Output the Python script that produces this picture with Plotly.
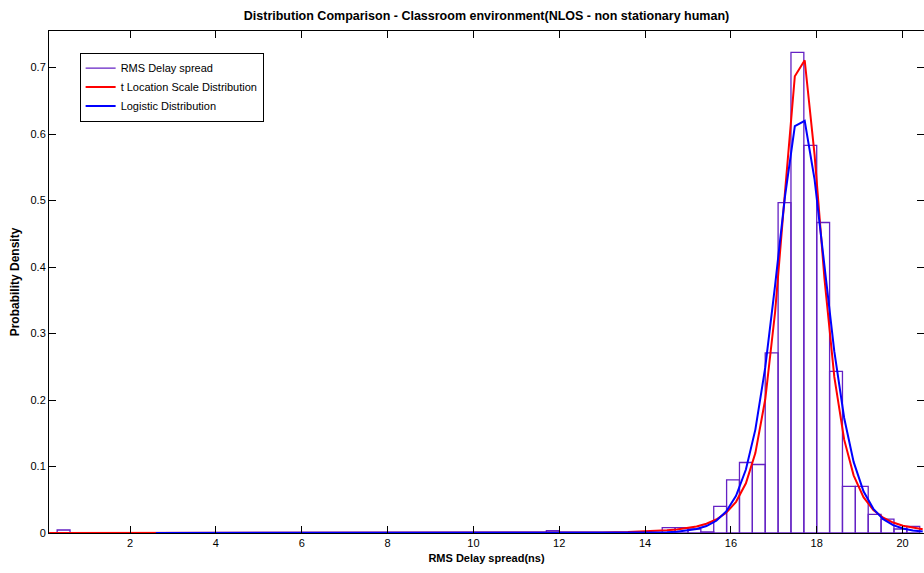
import plotly.graph_objects as go

# Histogram of measured RMS delay spread (normalised to probability density)
bin_width = 0.3
bin_left = [0.3, 11.7, 14.4, 14.7, 15.0, 15.3, 15.6, 15.9, 16.2, 16.5, 16.8,
            17.1, 17.4, 17.7, 18.0, 18.3, 18.6, 18.9, 19.2, 19.5, 19.8, 20.1]
density = [0.0045, 0.0035, 0.008, 0.008, 0.006, 0.0015, 0.040, 0.080, 0.106,
           0.103, 0.271, 0.497, 0.723, 0.583, 0.467, 0.243, 0.070, 0.070,
           0.028, 0.021, 0.006, 0.010]

# Fitted t location-scale pdf
t_x = [0.11, 2.0, 4.0, 6.0, 8.0, 10.0, 12.0, 13.0, 13.6, 14.05,
       14.28, 14.51, 14.74, 14.97, 15.20, 15.43, 15.66, 15.89, 16.12, 16.35,
       16.57, 16.80, 17.03, 17.26, 17.49, 17.72, 17.95, 18.18, 18.41, 18.64,
       18.86, 19.09, 19.32, 19.55, 19.78, 20.01, 20.24, 20.47]
t_pdf = [0.0, 0.0, 0.0, 0.0, 0.0, 0.0001, 0.0004, 0.0009, 0.0014, 0.0024,
         0.0031, 0.0040, 0.0053, 0.0072, 0.0099, 0.0140, 0.0203, 0.0304, 0.0469, 0.0748,
         0.1202, 0.2008, 0.332, 0.512, 0.687, 0.711, 0.569, 0.383, 0.2348, 0.1404,
         0.0867, 0.0539, 0.0346, 0.0229, 0.0157, 0.0110, 0.0079, 0.0058]

# Fitted logistic pdf
logi_x = [2.6, 6.0, 10.0, 12.0, 13.0, 13.6, 14.05,
          14.28, 14.51, 14.74, 14.97, 15.20, 15.43, 15.66, 15.89, 16.12, 16.35,
          16.57, 16.80, 17.03, 17.26, 17.49, 17.72, 17.95, 18.18, 18.41, 18.64,
          18.86, 19.09, 19.32, 19.55, 19.78, 20.01, 20.24, 20.47]
logi_pdf = [0.0, 0.0, 0.0, 0.0, 0.0001, 0.0002, 0.0004,
            0.0006, 0.0011, 0.0019, 0.0034, 0.0059, 0.0105, 0.0184, 0.0322, 0.0558, 0.0954,
            0.1555, 0.2487, 0.3725, 0.5058, 0.612, 0.620, 0.532, 0.402, 0.273, 0.173,
            0.107, 0.0628, 0.0363, 0.0208, 0.0119, 0.0067, 0.0038, 0.0022]

x_ticks = [2, 4, 6, 8, 10, 12, 14, 16, 18, 20]
y_ticks = [0, 0.1, 0.2, 0.3, 0.4, 0.5, 0.6, 0.7]
y_tick_text = ["0", "0.1", "0.2", "0.3", "0.4", "0.5", "0.6", "0.7"]

# Outline of every histogram bin as a closed rectangle
hist_x, hist_y = [], []
for left, h in zip(bin_left, density):
    right = left + bin_width
    hist_x += [left, left, right, right, left, None]
    hist_y += [0, h, h, 0, 0, None]

FONT = "Liberation Sans, Arial, sans-serif"

fig = go.Figure()
fig.add_trace(go.Scatter(
    x=hist_x, y=hist_y, mode="lines", name="RMS Delay spread",
    line=dict(color="#6422c4", width=1.3),
))
fig.add_trace(go.Scatter(
    x=t_x, y=t_pdf, mode="lines", name="t Location Scale Distribution",
    line=dict(color="#ff0000", width=2),
))
fig.add_trace(go.Scatter(
    x=logi_x, y=logi_pdf, mode="lines", name="Logistic Distribution",
    line=dict(color="#0000ff", width=2),
))

fig.update_layout(
    width=924, height=573,
    margin=dict(l=49, r=0, t=31, b=40),
    paper_bgcolor="white", plot_bgcolor="white",
    font=dict(family=FONT, size=11, color="black"),
    title=dict(
        text="<b>Distribution Comparison - Classroom environment(NLOS - non stationary human)</b>",
        x=0.5, xref="paper", xanchor="center", y=0.972, yanchor="middle",
        font=dict(family=FONT, size=12.5, color="black"),
    ),
    showlegend=True,
    legend=dict(
        x=0.035, y=0.957, xanchor="left", yanchor="top",
        bordercolor="black", borderwidth=1, bgcolor="white",
        font=dict(family=FONT, size=11, color="black"),
        tracegroupgap=0, itemwidth=30,
    ),
)

fig.update_xaxes(
    range=[0.11, 20.5], tickvals=x_ticks, ticks="inside", ticklen=7,
    tickcolor="black", showline=True, linecolor="black", linewidth=1,
    mirror="allticks", showgrid=False, zeroline=False,
    tickfont=dict(size=11),
    title=dict(text="<b>RMS Delay spread(ns)</b>", font=dict(size=11), standoff=6),
)
fig.update_yaxes(
    range=[0, 0.755], tickvals=y_ticks, ticktext=y_tick_text, ticks="inside",
    ticklen=7, tickcolor="black", showline=True, linecolor="black", linewidth=1,
    mirror="allticks", showgrid=False, zeroline=False,
    tickfont=dict(size=11),
    title=dict(text="<b>Probability Density</b>", font=dict(size=12), standoff=8),
)

fig.write_html("out.html")
